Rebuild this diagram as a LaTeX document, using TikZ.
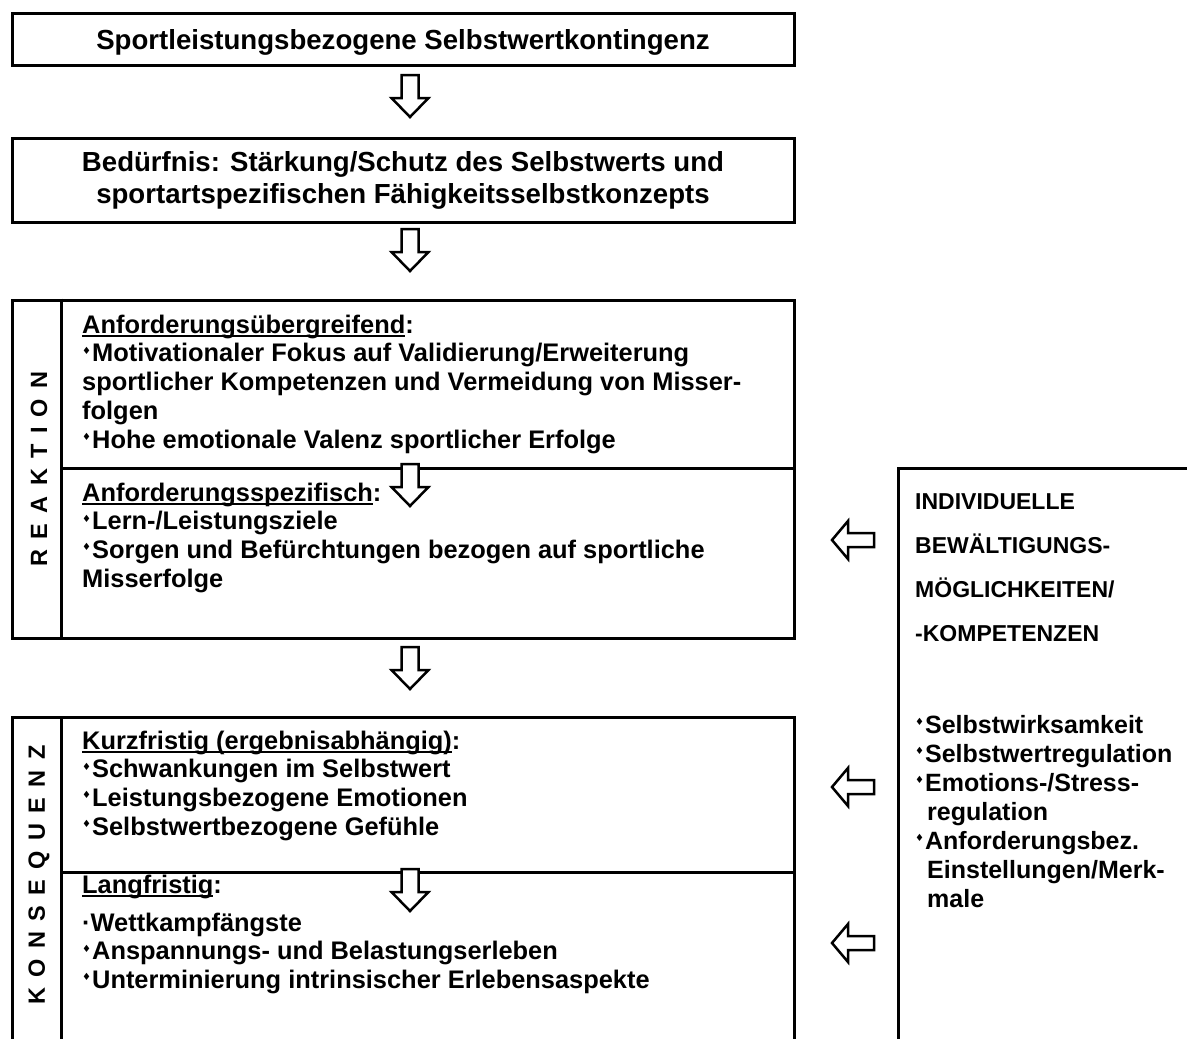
\documentclass[tikz,border=0pt]{standalone}
\usepackage{fontspec}
\setmainfont{Liberation Sans}
\newfontfamily\symfont{DejaVu Sans}
\newcommand{\dia}{\raisebox{0.3em}{\symfont\fontsize{10}{10}\selectfont ♦}\hspace{1pt}}
\newcommand{\hd}[1]{\setbox0\hbox{#1}\rlap{\rule[-3.5pt]{\wd0}{1.7pt}}\box0}
\newcommand{\fst}{\rule{0pt}{20pt}}

\begin{document}
\begin{tikzpicture}[x=1pt, y=-1pt, font=\bfseries\fontsize{25.4}{28.7}\selectfont]
        \tikzstyle{frame} = [draw, line width=3pt, inner sep=0pt]
        \tikzstyle{txt} = [anchor=north west, inner sep=0pt, align=left]
        \tikzstyle{side} = [rotate=90, inner sep=0pt, font=\bfseries\fontsize{23.5}{23.5}\selectfont\addfontfeature{LetterSpace=44}]
        \tikzset{
          downarrow/.pic={\draw[line width=2.5pt, fill=white] (-8.5,0) -- (8.5,0) -- (8.5,23) -- (18.5,23) -- (0,42) -- (-18.5,23) -- (-8.5,23) -- cycle;},
          leftarrow/.pic={\draw[line width=2.5pt, fill=white] (-21,0) -- (-5,-19) -- (-5,-7) -- (21,-7) -- (21,7) -- (-5,7) -- (-5,19) -- cycle;}
        }
        \clip (0,0) rectangle (1187,1039);

        % boxes on the left
        \node (kontingenz) [frame, minimum width=782pt, minimum height=52pt, text depth=0pt, font=\bfseries\fontsize{27.6}{32}\selectfont] at (403,39) {Sportleistungsbezogene Selbstwertkontingenz};
        \node (beduerfnis) [frame, minimum width=782pt, minimum height=84pt, align=center, font=\bfseries\fontsize{27.6}{32}\selectfont] at (403,180) {Bedürfnis: Stärkung/Schutz des Selbstwerts und\\sportartspezifischen Fähigkeitsselbstkonzepts};
        \node (reaktion) [frame, minimum width=782pt, minimum height=338pt] at (403,469) {};
        \node (konsequenz) [frame, minimum width=782pt, minimum height=340pt, anchor=north] at (403,716) {};
        \node (bewaeltigung) [frame, minimum width=330pt, minimum height=620pt, anchor=north west] at (897,467) {};

        \draw [line width=3pt] ([xshift=51pt]reaktion.north west) -- ([xshift=51pt]reaktion.south west);
        \draw [line width=3pt] ([xshift=51pt]konsequenz.north west) -- ([xshift=51pt]konsequenz.south west);
        \draw [line width=3pt] (63,468) -- (reaktion.east |- 0,468);
        \draw [line width=3pt] (63,872) -- (konsequenz.east |- 0,872);

        \node (lblreaktion) [side] at (39,469) {REAKTION};
        \node (lblkonsequenz) [side] at (39,875) {KONSEQUENZ};

        % texts
        \node (uebergreifend) [txt] at (82,313) {\fst\hd{Anforderungsübergreifend}:\\
          \dia Motivationaler Fokus auf Validierung/Erweiterung\\
          sportlicher Kompetenzen und Vermeidung von Misser-\\
          folgen\\
          \dia Hohe emotionale Valenz sportlicher Erfolge};
        \node (spezifisch) [txt] at (82,481) {\fst\hd{Anforderungsspezifisch}:\\
          \dia Lern-/Leistungsziele\\
          \dia Sorgen und Befürchtungen bezogen auf sportliche\\
          Misserfolge};
        \node (kurz) [txt] at (82,729) {\fst\hd{Kurzfristig (ergebnisabhängig)}:\\
          \dia Schwankungen im Selbstwert\\
          \dia Leistungsbezogene Emotionen\\
          \dia Selbstwertbezogene Gefühle};
        \node (lang) [txt] at (82,873) {\fst\hd{Langfristig}:\\[9.3pt]
          ·Wettkampfängste\\
          \dia Anspannungs- und Belastungserleben\\
          \dia Unterminierung intrinsischer Erlebensaspekte};
        \node (kompetenzen) [txt, font=\bfseries\fontsize{23}{44}\selectfont] at (915,489) {\fst INDIVIDUELLE\\
          BEWÄLTIGUNGS-\\
          MÖGLICHKEITEN/\\
          -KOMPETENZEN};
        \node (ressourcen) [txt, font=\bfseries\fontsize{25}{29}\selectfont] at (915,713) {\fst\dia Selbstwirksamkeit\\
          \dia Selbstwertregulation\\
          \dia Emotions-/Stress-\\
          \hspace*{12pt}regulation\\
          \dia Anforderungsbez.\\
          \hspace*{12pt}Einstellungen/Merk-\\
          \hspace*{12pt}male};

        % hollow arrows
        \pic at (410,75) {downarrow};
        \pic at (410,229) {downarrow};
        \pic at (410,464) {downarrow};
        \pic at (410,647) {downarrow};
        \pic at (410,869) {downarrow};
        \pic at (853,540) {leftarrow};
        \pic at (853,787) {leftarrow};
        \pic at (853,943) {leftarrow};
\end{tikzpicture}
\end{document}
